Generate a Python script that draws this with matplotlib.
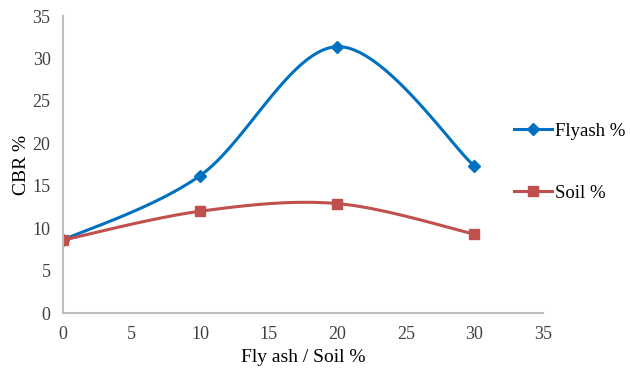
import numpy as np
import matplotlib.pyplot as plt
from matplotlib.lines import Line2D

# Data
x_vals = [0, 10, 20, 30]
flyash = [8.6, 16.2, 31.4, 17.3]
soil = [8.6, 12.0, 12.9, 9.3]


def excel_smooth(xs, ys, n=40):
    # Excel-like smoothed line (Catmull-Rom Bezier)
    px = [xs[0]] + list(xs) + [xs[-1]]
    py = [ys[0]] + list(ys) + [ys[-1]]
    out_x, out_y = [], []
    t = np.linspace(0, 1, n)
    for i in range(1, len(px) - 2):
        p0 = np.array([px[i], py[i]])
        p3 = np.array([px[i + 1], py[i + 1]])
        c1 = p0 + (np.array([px[i + 1], py[i + 1]]) - np.array([px[i - 1], py[i - 1]])) / 6
        c2 = p3 - (np.array([px[i + 2], py[i + 2]]) - np.array([px[i], py[i]])) / 6
        b = ((1 - t) ** 3)[:, None] * p0 + (3 * (1 - t) ** 2 * t)[:, None] * c1 \
            + (3 * (1 - t) * t ** 2)[:, None] * c2 + (t ** 3)[:, None] * p3
        out_x.extend(b[:, 0])
        out_y.extend(b[:, 1])
    return out_x, out_y


plt.rcParams['font.family'] = ['Liberation Serif', 'DejaVu Serif']

fig = plt.figure(figsize=(6.3, 3.74), dpi=100)
ax = fig.add_axes([0.1, 0.163, 0.762, 0.794])

blue = '#0070C0'
red = '#C0504D'

sx, sy = excel_smooth(x_vals, flyash)
ax.plot(sx, sy, color=blue, lw=2.2)
ax.plot(x_vals, flyash, 'D', color=blue, ms=6)

sx, sy = excel_smooth(x_vals, soil)
ax.plot(sx, sy, color=red, lw=2.2)
ax.plot(x_vals, soil, 's', color=red, ms=7)

ax.set_xlim(0, 35)
ax.set_ylim(0, 35)
ax.set_xticks(range(0, 36, 5))
ax.set_yticks(range(0, 36, 5))
ax.tick_params(length=0, labelsize=13, labelcolor='#404040', pad=9)
for s in ['top', 'right']:
    ax.spines[s].set_visible(False)
for s in ['left', 'bottom']:
    ax.spines[s].set_color('#BFBFBF')
    ax.spines[s].set_linewidth(1.5)

ax.set_xlabel('Fly ash / Soil %', fontsize=14, labelpad=5)
ax.set_ylabel('CBR %', fontsize=14, labelpad=2)

handles = [
    Line2D([], [], color=blue, lw=2.2, marker='D', ms=6),
    Line2D([], [], color=red, lw=2.2, marker='s', ms=7),
]
fig.legend(handles, ['Flyash %', 'Soil %'], loc='center left',
           bbox_to_anchor=(0.804, 0.566), frameon=False, fontsize=13.5,
           handlelength=2.0, handletextpad=0.2, labelspacing=2.4,
           borderaxespad=0)

fig.savefig('out.png', dpi=100)
